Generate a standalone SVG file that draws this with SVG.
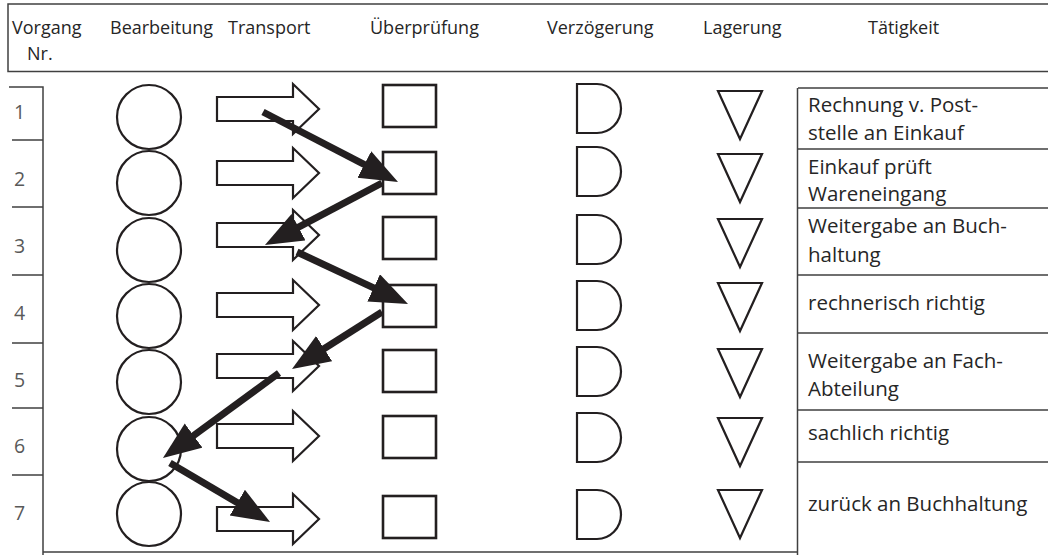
<svg xmlns="http://www.w3.org/2000/svg" width="1048" height="555" viewBox="0 0 1048 555">
  <style>
    .hdr { font-family: "Open Sans", "Liberation Sans", sans-serif; font-size: 18px; fill: #262626; }
    .num { font-family: "Open Sans", "Liberation Sans", sans-serif; font-size: 19.5px; fill: #595959; }
    .txt { font-family: "Open Sans", "Liberation Sans", sans-serif; font-size: 20.5px; fill: #262626; }
    .rule { stroke: #404040; stroke-width: 1.5; fill: none; }
    .sym { stroke: #231f20; stroke-width: 2.2; fill: #ffffff; }
    .box { stroke: #231f20; stroke-width: 2.6; fill: #ffffff; }
    .flow { stroke: #231f20; stroke-width: 7; fill: none; marker-end: url(#head); }
  </style>
  <defs>
    <marker id="head" markerUnits="userSpaceOnUse" markerWidth="40" markerHeight="32" refX="16" refY="15" orient="auto">
      <path d="M0,0 L38,15 L0,30 Z" fill="#231f20"/>
    </marker>
    <!-- column symbols, drawn around their own origin -->
    <path id="transport" d="M0,-12 H76 V-25 L102,0 L76,25 V12 H0 Z"/>
    <path id="delay" d="M0,0 H20 A24,24.5 0 0 1 20,49 H0 Z"/>
    <path id="store" d="M0,0 H44 L22,48 Z"/>
  </defs>

  <!-- header row -->
  <g id="header">
    <rect x="8" y="4" width="1060" height="67.5" class="rule"/>
    <text class="hdr" x="12" y="33.5">Vorgang</text>
    <text class="hdr" x="27" y="60">Nr.</text>
    <text class="hdr" x="110" y="33.5">Bearbeitung</text>
    <text class="hdr" x="228" y="33.5">Transport</text>
    <text class="hdr" x="370" y="33.5">Überprüfung</text>
    <text class="hdr" x="547" y="33.5">Verzögerung</text>
    <text class="hdr" x="703" y="33.5">Lagerung</text>
    <text class="hdr" x="868" y="33.5">Tätigkeit</text>
  </g>

  <!-- step numbers -->
  <g id="numbers">
    <path class="rule" d="M9,87 H43 V556 M43,552 H798 M12,140 H43 M12,207 H43 M12,275 H43 M12,343 H43 M12,408 H43 M12,475 H43"/>
    <text class="num" x="14" y="119">1</text>
    <text class="num" x="14" y="186">2</text>
    <text class="num" x="14" y="253">3</text>
    <text class="num" x="14" y="320">4</text>
    <text class="num" x="14" y="387">5</text>
    <text class="num" x="14" y="453">6</text>
    <text class="num" x="14" y="520">7</text>
  </g>

  <!-- Bearbeitung -->
  <g id="bearbeitung">
    <circle class="sym" cx="149" cy="117" r="32"/>
    <circle class="sym" cx="149" cy="183" r="32"/>
    <circle class="sym" cx="149" cy="250" r="32"/>
    <circle class="sym" cx="149" cy="316" r="32"/>
    <circle class="sym" cx="149" cy="382" r="32"/>
    <circle class="sym" cx="149" cy="449" r="32"/>
    <circle class="sym" cx="149" cy="514" r="32"/>
  </g>

  <!-- Transport -->
  <g id="transport-col">
    <use href="#transport" class="sym" x="217" y="109"/>
    <use href="#transport" class="sym" x="217" y="173"/>
    <use href="#transport" class="sym" x="217" y="235"/>
    <use href="#transport" class="sym" x="217" y="305"/>
    <use href="#transport" class="sym" x="217" y="366"/>
    <use href="#transport" class="sym" x="217" y="436"/>
    <use href="#transport" class="sym" x="217" y="519"/>
  </g>

  <!-- Überprüfung -->
  <g id="pruefung">
    <rect class="box" x="383" y="85" width="53" height="42"/>
    <rect class="box" x="383" y="152" width="53" height="42"/>
    <rect class="box" x="383" y="217" width="53" height="42"/>
    <rect class="box" x="383" y="285" width="53" height="42"/>
    <rect class="box" x="383" y="350" width="53" height="42"/>
    <rect class="box" x="383" y="416" width="53" height="42"/>
    <rect class="box" x="383" y="496" width="53" height="42"/>
  </g>

  <!-- Verzögerung -->
  <g id="verzoegerung">
    <use href="#delay" class="sym" x="577" y="84"/>
    <use href="#delay" class="sym" x="577" y="147"/>
    <use href="#delay" class="sym" x="577" y="215"/>
    <use href="#delay" class="sym" x="577" y="281"/>
    <use href="#delay" class="sym" x="577" y="347"/>
    <use href="#delay" class="sym" x="577" y="413"/>
    <use href="#delay" class="sym" x="577" y="490"/>
  </g>

  <!-- Lagerung -->
  <g id="lagerung">
    <use href="#store" class="sym" x="718" y="91"/>
    <use href="#store" class="sym" x="718" y="154"/>
    <use href="#store" class="sym" x="718" y="219"/>
    <use href="#store" class="sym" x="718" y="283"/>
    <use href="#store" class="sym" x="718" y="349"/>
    <use href="#store" class="sym" x="718" y="418"/>
    <use href="#store" class="sym" x="718" y="490"/>
  </g>

  <!-- Tätigkeit -->
  <g id="taetigkeit">
    <path class="rule" d="M798,88 H1060 M797.5,88 V556 M798,149 H1060 M798,208 H1060 M798,275 H1060 M798,333 H1060 M798,410 H1060 M798,462 H1060"/>
    <text class="txt" x="808" y="111.5">Rechnung v. Post-</text>
    <text class="txt" x="808" y="139.5">stelle an Einkauf</text>
    <text class="txt" x="808" y="173.5">Einkauf prüft</text>
    <text class="txt" x="808" y="201">Wareneingang</text>
    <text class="txt" x="808" y="233">Weitergabe an Buch-</text>
    <text class="txt" x="808" y="261.5">haltung</text>
    <text class="txt" x="808" y="309.5">rechnerisch richtig</text>
    <text class="txt" x="808" y="368">Weitergabe an Fach-</text>
    <text class="txt" x="808" y="395.5">Abteilung</text>
    <text class="txt" x="808" y="440">sachlich richtig</text>
    <text class="txt" x="808" y="511">zurück an Buchhaltung</text>
  </g>

  <!-- document flow -->
  <g id="connectors">
    <line class="flow" x1="263" y1="112" x2="378.5" y2="171.9"/>
    <line class="flow" x1="382" y1="183" x2="284.4" y2="234.7"/>
    <line class="flow" x1="297" y1="252" x2="388.1" y2="294.7"/>
    <line class="flow" x1="382" y1="312" x2="310.6" y2="357.2"/>
    <line class="flow" x1="279" y1="373" x2="180.7" y2="445.0"/>
    <line class="flow" x1="170" y1="463" x2="251.1" y2="510.8"/>
  </g>
</svg>
